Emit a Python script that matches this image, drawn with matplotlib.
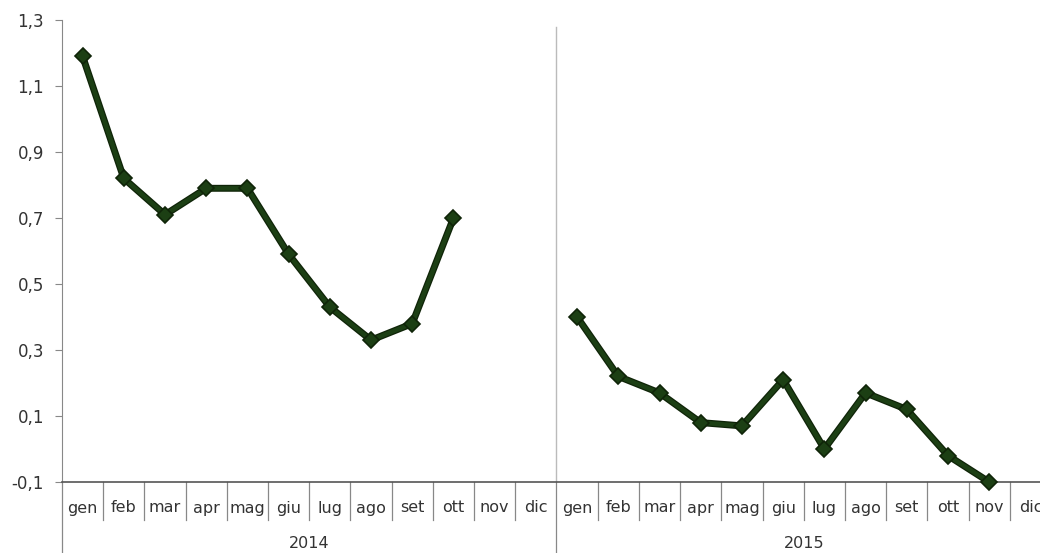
import numpy as np
import matplotlib
matplotlib.use("Agg")
from matplotlib import pyplot as plt
import matplotlib.transforms as mtransforms

# monthly values (nan = no data)
mesi = ["gen", "feb", "mar", "apr", "mag", "giu", "lug", "ago", "set", "ott", "nov", "dic"]
anni = ["2014", "2015"]
val_2014 = [1.19, 0.82, 0.71, 0.79, 0.79, 0.59, 0.43, 0.33, 0.38, 0.70, np.nan, np.nan]
val_2015 = [0.40, 0.22, 0.17, 0.08, 0.07, 0.21, 0.00, 0.17, 0.12, -0.02, -0.10, np.nan]
yticks = [-0.1, 0.1, 0.3, 0.5, 0.7, 0.9, 1.1, 1.3]

W, H = 1040, 553
fig = plt.figure(figsize=(W / 100, H / 100), dpi=100)
# axes runs past the right edge like in the original screenshot
ax = fig.add_axes([62 / W, (H - 482) / H, 989 / W, 462 / H])

green = "#1c3f14"
x14 = np.arange(12)
x15 = np.arange(12) + 12
for xs, ys in [(x14, val_2014), (x15, val_2015)]:
    # dark outline under the line, like the original
    ax.plot(xs, ys, color="#0f2408", lw=5, solid_joinstyle="round", zorder=3, clip_on=False)
    ax.plot(xs, ys, color=green, lw=3.2, marker="D", ms=8,
            mfc=green, mec="#0f2408", mew=1.2, solid_joinstyle="round", zorder=4, clip_on=False)

ax.set_xlim(-0.5, 23.5)
ax.set_ylim(-0.1, 1.3)
ax.set_yticks(yticks)
ax.set_yticklabels([f"{v:.1f}".replace(".", ",") for v in yticks],
                   fontsize=12, color="#333333")
ax.tick_params(axis="y", length=5, color="#888888", pad=8)
ax.set_xticks([])

for s in ["top", "right"]:
    ax.spines[s].set_visible(False)
ax.spines["left"].set_color("#888888")
ax.spines["bottom"].set_color("#555555")
ax.spines["bottom"].set_linewidth(1.2)

trans = mtransforms.blended_transform_factory(ax.transData, ax.transAxes)

# divider between years inside the plot
ax.plot([11.5, 11.5], [0, 0.985], color="#bbbbbb", lw=1, transform=trans, zorder=1)

# month separators and labels
lab_y = -(508 - 482) / 462
for i in range(24):
    ax.text(i, lab_y, mesi[i % 12], transform=trans, ha="center", va="center",
            fontsize=11.5, color="#333333")
    if i > 0 and i % 12 != 0:
        ax.plot([i - 0.5, i - 0.5], [0, -(520 - 482) / 462], color="#888888",
                lw=0.9, transform=trans, clip_on=False)

# year separators and labels
for k in [-0.5, 11.5, 23.5]:
    ax.plot([k, k], [0, -72 / 462], color="#888888", lw=0.9, transform=trans, clip_on=False)
for j, a in enumerate(anni):
    ax.text(5.5 + 12 * j, -(543 - 482) / 462, a, transform=trans, ha="center",
            va="center", fontsize=11.5, color="#333333")

fig.savefig("out.png", dpi=100)
